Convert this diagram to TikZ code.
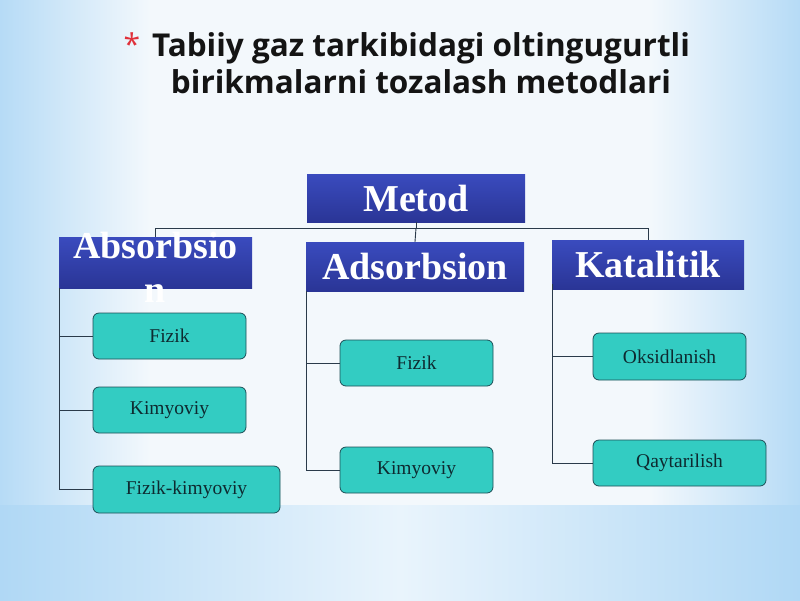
\documentclass[tikz,border=0pt]{standalone}
\usepackage{fontspec}
\setmainfont{Liberation Serif}
\newfontfamily\titlefont{Open Sans}
\begin{document}
\begin{tikzpicture}[x=1pt,y=-1pt,
  hdr/.style={draw=none, top color=blueA, bottom color=blueB, inner sep=0pt,
    text=white, font=\fontsize{38}{43}\selectfont\bfseries},
  leaf/.style={draw=leafline, line width=0.8pt, fill=leafC, rounded corners=6pt,
    inner sep=0pt, text=leaftext, font=\fontsize{19.5}{22}\selectfont},
  conn/.style={draw=connC, line width=0.9pt}
]
\definecolor{blueA}{HTML}{3A4BBE}
\definecolor{blueB}{HTML}{2A3596}
\definecolor{leafC}{HTML}{33CCC2}
\definecolor{leafline}{HTML}{1E4E56}
\definecolor{leaftext}{HTML}{0E2A30}
\definecolor{connC}{HTML}{2A3A4A}
\definecolor{bgedge}{HTML}{B6DBF6}
\definecolor{bgmid}{HTML}{F3F8FC}
\definecolor{bgbot}{HTML}{E9F4FC}
\definecolor{bgbotedge}{HTML}{B0D8F5}
\definecolor{starC}{HTML}{E0303A}
\definecolor{titleC}{HTML}{141414}
\useasboundingbox (0,0) rectangle (800,600);
% background
\fill[bgmid] (0,0) rectangle (800,600);
\fill[left color=bgedge, right color=bgmid] (0,0) rectangle (150,505);
\fill[left color=bgmid, right color=bgedge] (650,0) rectangle (800,505);
\fill[left color=bgbotedge, right color=bgbotedge, middle color=bgbot] (0,505) rectangle (800,600);
% title
\node[font=\titlefont\fontsize{30}{30}\selectfont, text=starC, anchor=center] (star) at (132,44) {*};
\node[font=\titlefont\bfseries\fontsize{31.5}{37}\selectfont, text=titleC, align=center] (title) at (421,63)
  {Tabiiy gaz tarkibidagi oltingugurtli\\birikmalarni tozalash metodlari};
% header boxes
\node[hdr, minimum width=218, minimum height=48] (metod) at (416,198) {Metod};
\node[hdr, minimum width=193, minimum height=51] (absb) at (155.5,262.5) {};
\node[font=\fontsize{38}{44}\selectfont\bfseries, text=white, align=center] (abstxt) at (155.5,267) {Absorbsio\\n};
\node[hdr, minimum width=218, minimum height=49] (adsb) at (415,266.5) {Adsorbsion};
\node[hdr, minimum width=192, minimum height=49] (kat) at (648,264.5) {Katalitik};
% leaves
\node[leaf, minimum width=153, minimum height=46] (f1) at (169.5,336) {Fizik};
\node[leaf, minimum width=153, minimum height=46] (k1) at (169.5,410) {Kimyoviy};
\node[leaf, minimum width=187, minimum height=47] (fk1) at (186.5,489.5) {Fizik-kimyoviy};
\node[leaf, minimum width=153, minimum height=46] (f2) at (416.5,363) {Fizik};
\node[leaf, minimum width=153, minimum height=46] (k2) at (416.5,470) {Kimyoviy};
\node[leaf, minimum width=153, minimum height=47] (o3) at (669.5,356.5) {Oksidlanish};
\node[leaf, minimum width=173, minimum height=46] (q3) at (679.5,463) {Qaytarilish};
% connectors top
\coordinate (bus) at (416,228);
\draw[conn] (metod.south) -- (bus);
\draw[conn] (bus) -| (absb.north);
\draw[conn] (bus) -| (kat.north);
\draw[conn] (bus) -- (adsb.north);
% left column
\draw[conn] ([xshift=1pt]absb.south west) |- (fk1.west);
\draw[conn] ([xshift=1pt]absb.south west |- f1.west) -- (f1.west);
\draw[conn] ([xshift=1pt]absb.south west |- k1.west) -- (k1.west);
% middle
\draw[conn] ([xshift=1pt]adsb.south west) |- (k2.west);
\draw[conn] ([xshift=1pt]adsb.south west |- f2.west) -- (f2.west);
% right
\draw[conn] ([xshift=1pt,yshift=5pt]kat.south west) |- (q3.west);
\draw[conn] ([xshift=1pt]kat.south west |- o3.west) -- (o3.west);
\end{tikzpicture}
\end{document}
